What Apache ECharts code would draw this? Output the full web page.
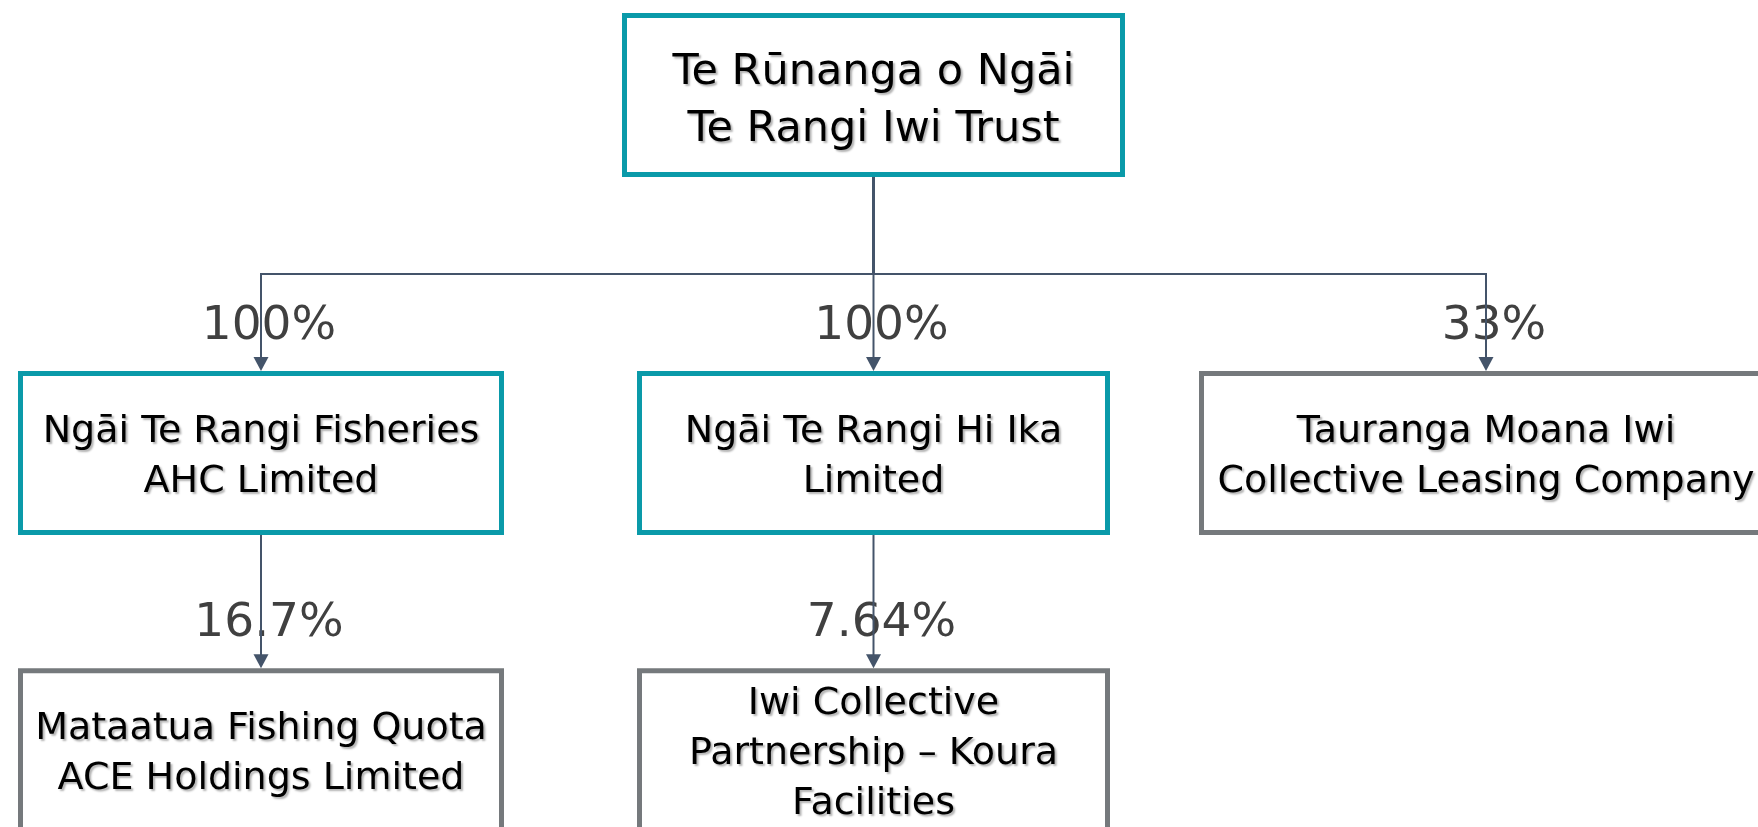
<!DOCTYPE html>
<html>
<head>
<meta charset="utf-8">
<title>Ngāi Te Rangi structure</title>
<script src="https://cdn.jsdelivr.net/npm/echarts@6/dist/echarts.min.js"></script>
<style>
  html, body { margin: 0; padding: 0; background: #fff; }
  #chart { width: 1758px; height: 827px; }
</style>
</head>
<body>
<div id="chart"></div>
<script>
// entities in the group, who owns them and by how much
const entities = [
  'Te Rūnanga o Ngāi\nTe Rangi Iwi Trust',
  'Ngāi Te Rangi Fisheries\nAHC Limited',
  'Ngāi Te Rangi Hi Ika\nLimited',
  'Tauranga Moana Iwi\nCollective Leasing Company',
  'Mataatua Fishing Quota\nACE Holdings Limited',
  'Iwi Collective\nPartnership – Koura\nFacilities'
];
const parentOf = [-1, 0, 0, 0, 1, 2];
const shareOfParent = ['', '100%', '100%', '33%', '16.7%', '7.64%'];
const iwiOwned = [true, true, true, false, false, false];

// vertical position of each tier
const tierPos = [0, 1, 1.83];

const TEAL = '#0a9aa9';
const GREY = '#75797c';
const LINE = '#44546a';
const BOX_H = 164;
const ROOT_W = 503;
const COL_W = [486, 473, 574];
const BORDER = 5;
const FONT = '"DejaVu Sans", Verdana, sans-serif';

// depth and column come from the tree itself
const depth = parentOf.map(function (p, i) {
  let d = 0, k = i;
  while (parentOf[k] >= 0) { k = parentOf[k]; d++; }
  return d;
});
const column = [];
const rootKids = [];
parentOf.forEach(function (p, i) {
  if (p === 0) { column[i] = rootKids.length; rootKids.push(i); }
  else if (p > 0) column[i] = column[p];
});
column[0] = rootKids.reduce((s, k) => s + column[k], 0) / rootKids.length;

function boxW(i) { return depth[i] === 0 ? ROOT_W : COL_W[Math.round(column[i])]; }

const nodeData = entities.map((_, i) => [column[i], tierPos[depth[i]], i]);
const linkData = entities.map((_, i) => i).filter(i => parentOf[i] >= 0).map(function (i) {
  const p = parentOf[i];
  return [column[i], tierPos[depth[i]], column[p], tierPos[depth[p]], i];
});

const chart = echarts.init(document.getElementById('chart'));

chart.setOption({
  animation: false,
  grid: { left: 261, right: 272, top: 95, bottom: 16 },
  xAxis: { type: 'value', min: 0, max: 2, show: false },
  yAxis: { type: 'value', min: 0, max: 2, inverse: true, show: false },
  series: [
    {
      // ownership percentages, under the connectors
      type: 'custom',
      z: 1,
      data: linkData,
      encode: { x: 0, y: 1 },
      renderItem: function (params, api) {
        const i = api.value(4);
        const c = api.coord([api.value(0), api.value(1)]);
        return {
          type: 'text',
          x: c[0] + 8,
          y: c[1] - BOX_H / 2 - 44,
          style: {
            text: shareOfParent[i],
            fontFamily: FONT,
            fontSize: 47,
            fill: '#404040',
            align: 'center',
            verticalAlign: 'middle'
          }
        };
      }
    },
    {
      // boxes
      type: 'custom',
      z: 2,
      data: nodeData,
      encode: { x: 0, y: 1 },
      renderItem: function (params, api) {
        const i = api.value(2);
        const c = api.coord([api.value(0), api.value(1)]);
        const w = boxW(i) - BORDER, h = BOX_H - BORDER;
        const root = depth[i] === 0;
        return {
          type: 'group',
          children: [
            {
              type: 'rect',
              shape: { x: c[0] - w / 2, y: c[1] - h / 2, width: w, height: h },
              style: { fill: '#fff', stroke: iwiOwned[i] ? TEAL : GREY, lineWidth: BORDER }
            },
            {
              type: 'text',
              x: c[0],
              y: c[1] + (root ? 6 : 4),
              style: {
                text: entities[i],
                fontFamily: FONT,
                fontSize: root ? 43 : 38,
                lineHeight: root ? 57 : 50,
                fill: '#000',
                align: 'center',
                verticalAlign: 'middle',
                textShadowColor: 'rgba(0,0,0,0.3)',
                textShadowBlur: 2,
                textShadowOffsetX: 2,
                textShadowOffsetY: 2
              }
            }
          ]
        };
      }
    },
    {
      // connectors with arrow heads
      type: 'custom',
      z: 3,
      data: linkData,
      encode: { x: 0, y: 1 },
      renderItem: function (params, api) {
        const i = api.value(4);
        const p = parentOf[i];
        const c = api.coord([api.value(0), api.value(1)]);
        const pc = api.coord([api.value(2), api.value(3)]);
        const top = c[1] - BOX_H / 2;
        const from = pc[1] + BOX_H / 2;
        const arrowH = 14, arrowW = 15;
        const children = [];
        let pts;
        if (depth[p] === 0) {
          const bus = (from + top) / 2;
          children.push({
            type: 'line',
            shape: { x1: pc[0], y1: from, x2: pc[0], y2: bus },
            style: { stroke: LINE, lineWidth: 3 }
          });
          pts = [[pc[0], bus], [c[0], bus], [c[0], top - arrowH + 1]];
        } else {
          pts = [[pc[0], from], [c[0], top - arrowH + 1]];
        }
        children.push({
          type: 'polyline',
          shape: { points: pts },
          style: { stroke: LINE, lineWidth: 2, fill: null }
        });
        children.push({
          type: 'polygon',
          shape: { points: [[c[0] - arrowW / 2, top - arrowH], [c[0] + arrowW / 2, top - arrowH], [c[0], top]] },
          style: { fill: LINE }
        });
        return { type: 'group', children: children };
      }
    }
  ]
});
</script>
</body>
</html>
